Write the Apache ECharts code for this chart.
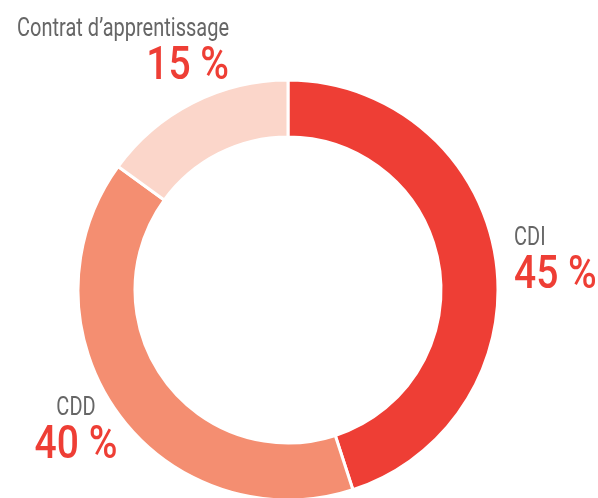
<!DOCTYPE html>
<html>
<head>
<meta charset="utf-8">
<script src="https://cdn.jsdelivr.net/npm/echarts@6/dist/echarts.min.js"></script>
<style>
  html, body { margin: 0; padding: 0; background: #fff; }
  #chart { width: 598px; height: 498px; }
</style>
</head>
<body>
<div id="chart"></div>
<script>
// données
const categories = ['CDI', 'CDD', 'Contrat d\u2019apprentissage'];
const values = [45, 40, 15];
const colors = ['#ee3e35', '#f48e71', '#fbd6ca'];

// position des étiquettes (x, y du nom, alignement)
const labelPos = [
  { x: 514, y: 239, align: 'left' },
  { x: 76, y: 409, align: 'center' },
  { x: 229, y: 30, align: 'right' }
];

const font = 'Roboto, sans-serif';

const graphic = [];
categories.forEach((name, i) => {
  const p = labelPos[i];
  graphic.push({
    type: 'text',
    x: p.x,
    y: p.y,
    scaleX: 0.8,
    style: {
      text: name,
      fill: '#666',
      font: '25px ' + font,
      textAlign: p.align,
      textVerticalAlign: 'middle'
    }
  });
  graphic.push({
    type: 'text',
    x: p.x,
    y: p.y + 37,
    scaleX: 0.83,
    style: {
      text: values[i] + ' %',
      fill: '#ee3e35',
      font: '500 47px ' + font,
      textAlign: p.align,
      textVerticalAlign: 'middle'
    }
  });
});

const chart = echarts.init(document.getElementById('chart'));
chart.setOption({
  animation: false,
  graphic,
  series: [{
    type: 'pie',
    center: [288, 290],
    radius: [153, 210],
    startAngle: 90,
    clockwise: true,
    label: { show: false },
    labelLine: { show: false },
    itemStyle: { borderColor: '#fff', borderWidth: 3 },
    data: categories.map((name, i) => ({
      name,
      value: values[i],
      itemStyle: { color: colors[i] }
    }))
  }]
});
</script>
</body>
</html>
